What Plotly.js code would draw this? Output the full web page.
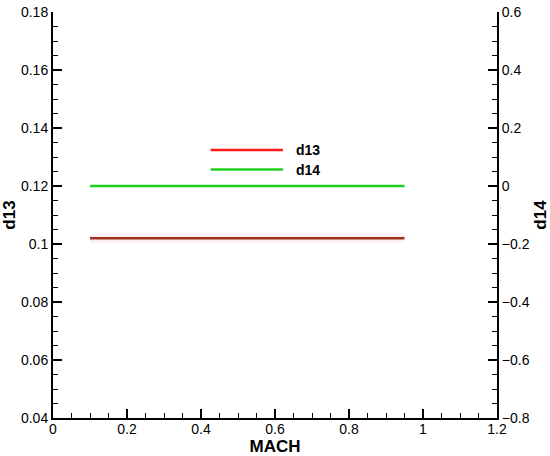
<!DOCTYPE html>
<html>
<head>
<meta charset="utf-8">
<script src="https://cdn.plot.ly/plotly-3.0.1.min.js"></script>
<style>html,body{margin:0;padding:0;background:#fff;}#chart{width:550px;height:456px;}</style>
</head>
<body>
<div id="chart"></div>
<script>
// Data
const mach = [0.1, 0.95];
const d13 = [0.102, 0.102];
const d14 = [0.0, 0.0];
const seriesNames = ['d13', 'd14'];
const seriesColors = ['#ff1a1a', '#1ed01e'];
const xTitle = 'MACH';
const y1Title = 'd13';
const y2Title = 'd14';

const FONT = 'Liberation Sans, Arial, sans-serif';

const traces = [
  { x: mach, y: d13, mode: 'lines', line: { color: '#fdeef8', width: 9 }, hoverinfo: 'skip', showlegend: false },
  { x: mach, y: d13, mode: 'lines', name: seriesNames[0], line: { color: '#a0341a', width: 2.5 }, showlegend: false },
  { x: mach, y: d14, mode: 'lines', name: seriesNames[1], yaxis: 'y2', line: { color: seriesColors[1], width: 2.5 }, showlegend: false }
];

const legY = [0.66, 0.612];
const shapes = seriesNames.map((n, i) => ({
  type: 'line', xref: 'paper', yref: 'paper', x0: 0.355, x1: 0.518, y0: legY[i], y1: legY[i],
  line: { color: seriesColors[i], width: 2.5 }
}));
const annotations = seriesNames.map((n, i) => ({
  xref: 'paper', yref: 'paper', x: 0.543, y: legY[i], xanchor: 'left', yanchor: 'middle',
  text: '<b>' + n + '</b>', showarrow: false, font: { family: FONT, size: 14, color: '#000' }
}));

const axisCommon = {
  showgrid: false, zeroline: false, showline: true, linecolor: '#000', linewidth: 2,
  ticks: 'inside', ticklen: 9, tickwidth: 2, tickcolor: '#000',
  tickfont: { family: FONT, size: 14, color: '#000' },
  automargin: false
};

const layout = {
  width: 550, height: 456,
  margin: { l: 53, r: 53, t: 12, b: 38 },
  paper_bgcolor: '#fff', plot_bgcolor: '#fff',
  showlegend: false,
  font: { family: FONT, color: '#000' },
  xaxis: Object.assign({}, axisCommon, {
    range: [0, 1.2], dtick: 0.2, tick0: 0,
    ticklabelstandoff: -3,
    minor: { dtick: 0.05, ticks: 'inside', ticklen: 5, tickwidth: 1, tickcolor: '#000' },
    title: { text: '<b>' + xTitle + '</b>', font: { family: FONT, size: 17, color: '#000' }, standoff: 4 }
  }),
  yaxis: Object.assign({}, axisCommon, {
    range: [0.04, 0.18], dtick: 0.02, tick0: 0.04,
    minor: { dtick: 0.005, ticks: 'inside', ticklen: 5, tickwidth: 1, tickcolor: '#000' },
    title: { text: '<b>' + y1Title + '</b>', font: { family: FONT, size: 17, color: '#000' }, standoff: 6 }
  }),
  yaxis2: Object.assign({}, axisCommon, {
    overlaying: 'y', side: 'right', anchor: 'x',
    range: [-0.8, 0.6], dtick: 0.2, tick0: -0.8,
    minor: { dtick: 0.05, ticks: 'inside', ticklen: 5, tickwidth: 1, tickcolor: '#000' },
    title: { text: '<b>' + y2Title + '</b>', font: { family: FONT, size: 17, color: '#000' }, standoff: 6 }
  }),
  shapes: shapes,
  annotations: annotations
};

Plotly.newPlot('chart', traces, layout, { displayModeBar: false, staticPlot: true });
</script>
</body>
</html>
